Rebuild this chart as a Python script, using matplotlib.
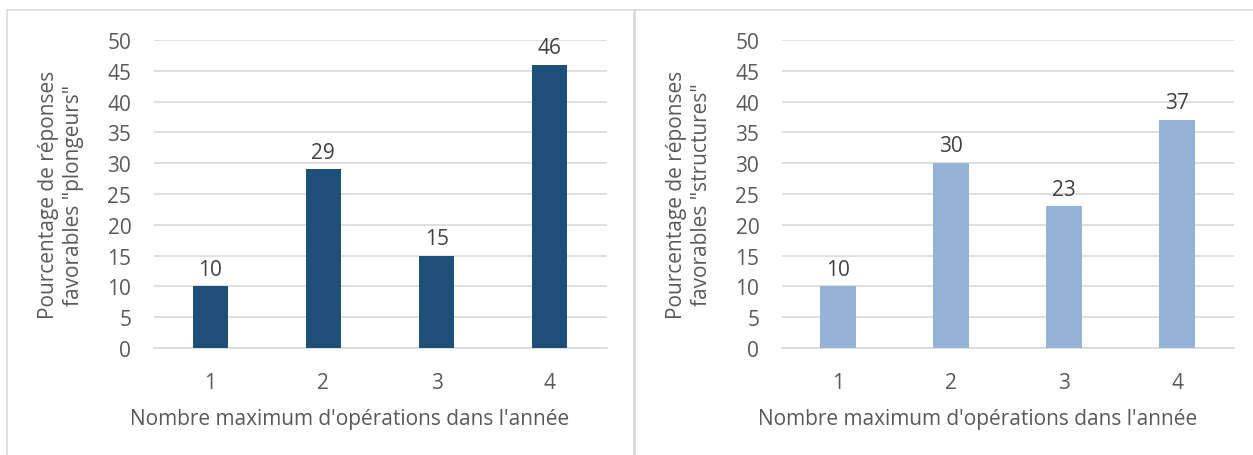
import matplotlib.pyplot as plt
from matplotlib.patches import Rectangle

categories = ["1", "2", "3", "4"]
plongeurs = [10, 29, 15, 46]
structures = [10, 30, 23, 37]
xlabel = "Nombre maximum d'opérations dans l'année"
ylabels = ['Pourcentage de réponses\nfavorables "plongeurs"',
           'Pourcentage de réponses\nfavorables "structures"']
colors = ["#1F4E79", "#95B3D7"]

plt.rcParams["font.family"] = ["Open Sans", "DejaVu Sans"]
text_col = "#595959"
grid_col = "#D9D9D9"

W, H = 1253, 456
fig = plt.figure(figsize=(W / 100, H / 100), dpi=100)


def px_axes(x0, x1, y0, y1):
    return fig.add_axes([x0 / W, 1 - y1 / H, (x1 - x0) / W, (y1 - y0) / H])


# panel frames
fig.add_artist(Rectangle((7 / W, -0.1), (634 - 7) / W, 1.1 - 11 / H,
                         transform=fig.transFigure, fill=False,
                         edgecolor="#D9D9D9", lw=1.2))
fig.add_artist(Rectangle((635 / W, -0.1), 0.6, 1.1 - 11 / H,
                         transform=fig.transFigure, fill=False,
                         edgecolor="#D9D9D9", lw=1.2))

panels = [
    (px_axes(153.5, 606.5, 41, 349), plongeurs, colors[0], ylabels[0]),
    (px_axes(781.5, 1233.5, 41, 349), structures, colors[1], ylabels[1]),
]

for ax, vals, col, ylab in panels:
    x = range(len(categories))
    bars = ax.bar(x, vals, width=0.31, color=col, zorder=3)
    for b, v in zip(bars, vals):
        ax.text(b.get_x() + b.get_width() / 2, v + 1.1, str(v), ha="center",
                va="bottom", fontsize=15, color="#404040")
    ax.set_xlim(-0.5, len(categories) - 0.5)
    ax.set_ylim(0, 50)
    ax.set_yticks(range(0, 51, 5))
    ax.set_xticks(list(x))
    ax.set_xticklabels(categories)
    ax.yaxis.grid(True, color=grid_col, lw=1.2, zorder=0)
    for s in ["top", "right", "left"]:
        ax.spines[s].set_visible(False)
    ax.spines["bottom"].set_color(grid_col)
    ax.spines["bottom"].set_linewidth(1.2)
    ax.tick_params(length=0, labelsize=15, colors=text_col)
    ax.tick_params(axis="x", pad=17)
    ax.tick_params(axis="y", pad=16)
    ax.set_xlabel(xlabel, fontsize=15, color=text_col)
    ax.xaxis.set_label_coords(0.433, -0.195)
    ax.set_ylabel(ylab, fontsize=15, color=text_col, labelpad=17,
                  linespacing=1.2)

fig.savefig("out.png", dpi=100)
